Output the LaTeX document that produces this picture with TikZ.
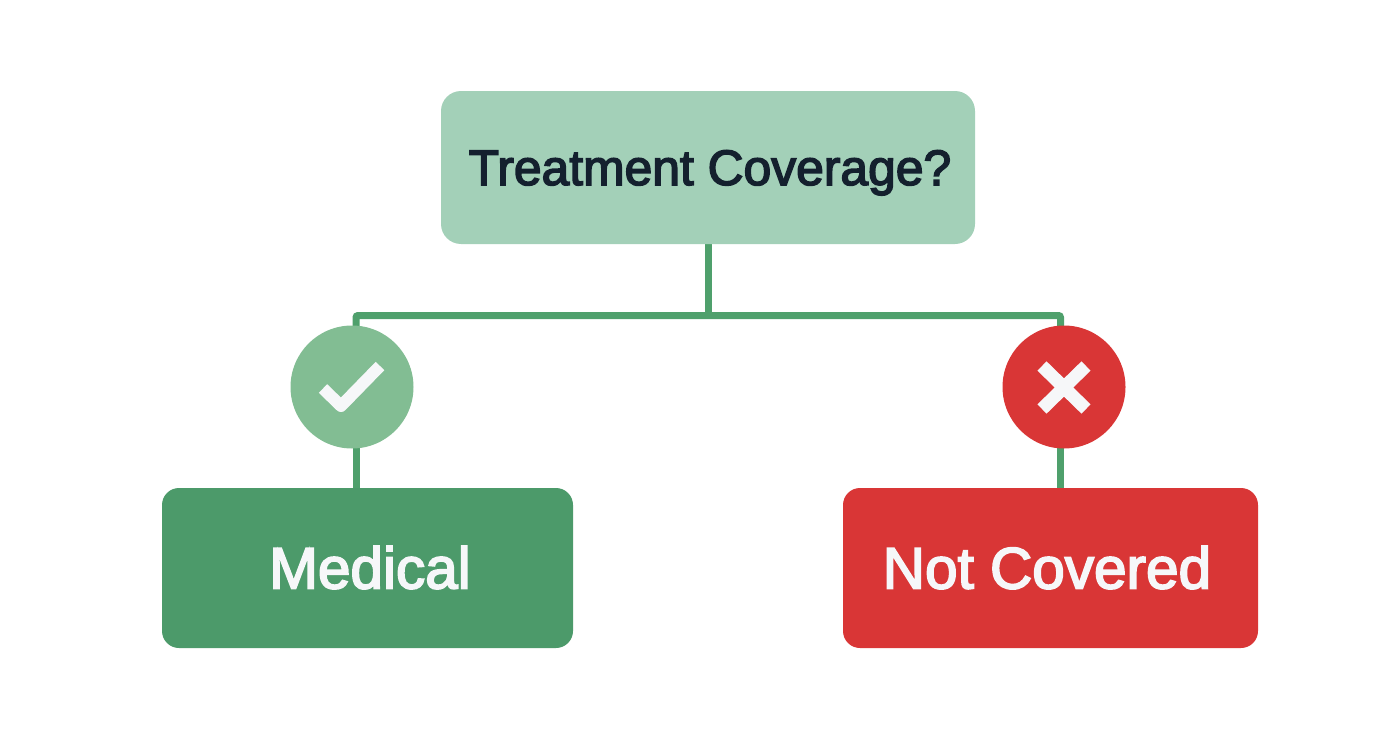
\documentclass[tikz,border=0pt]{standalone}
\usepackage{fontspec}
\setmainfont[FakeBold=3]{Liberation Sans}
\usetikzlibrary{backgrounds}
\definecolor{topfill}{HTML}{A3D0B8}
\definecolor{goodfill}{HTML}{4C9A6A}
\definecolor{badfill}{HTML}{D93636}
\definecolor{goodcirc}{HTML}{82BD93}
\definecolor{linkcol}{HTML}{4FA06C}
\definecolor{inktxt}{HTML}{14202E}
\definecolor{marktxt}{HTML}{F6F7F9}
\tikzset{
  x=1pt,y=-1pt,
  box/.style={rectangle,inner sep=0pt,outer sep=0pt},
  topbox/.style={box,fill=topfill,text=inktxt,rounded corners=20pt,minimum width=534pt,minimum height=153pt,text height=35pt,text depth=0pt,font=\fontsize{49.8}{60}\selectfont},
  resbox/.style={box,text=marktxt,rounded corners=17pt,minimum height=160pt,text height=41pt,text depth=0pt,font=\fontsize{58.5}{66}\selectfont},
  badge/.style={circle,inner sep=0pt,outer sep=0pt,minimum size=123pt},
  link/.style={draw=linkcol,line width=7pt,rounded corners=2pt},
  markline/.style={draw=marktxt,line cap=butt,line join=round}
}
\begin{document}
\begin{tikzpicture}
\useasboundingbox (0,0) rectangle (1392,752);
\node[topbox] (q) at (708,167.5) {\hspace*{4pt}Treatment Coverage?};
\node[resbox,fill=goodfill,minimum width=411pt] (med) at (367.5,568) {\hspace*{5pt}Medical};
\node[resbox,fill=badfill,minimum width=415pt] (not) at (1050.5,568) {\hspace*{-7pt}Not Covered};
\node[badge,fill=goodcirc] (yes) at (352,387) {};
\node[badge,fill=badfill] (no) at (1064,387) {};
\coordinate (hub) at (708,315.5);
\coordinate (la) at (356,315.5);
\coordinate (ra) at (1060.5,315.5);
\coordinate (lb) at (356,387);
\coordinate (rb) at (1060.5,387);
\coordinate (lc) at (356,488);
\coordinate (rc) at (1060.5,488);
\begin{scope}[on background layer]
\draw[link] (q.south) -- (hub);
\draw[link] (lb) -- (la) -- (ra) -- (rb);
\draw[link] (lb) -- (lc);
\draw[link] (rb) -- (rc);
\end{scope}
\draw[markline,line width=12pt] (323,388.5) -- (341,406) -- (380,366);
\draw[markline,line width=13pt] (1042,366) -- (1086,409);
\draw[markline,line width=13pt] (1086,366) -- (1042,409);
\end{tikzpicture}
\end{document}
